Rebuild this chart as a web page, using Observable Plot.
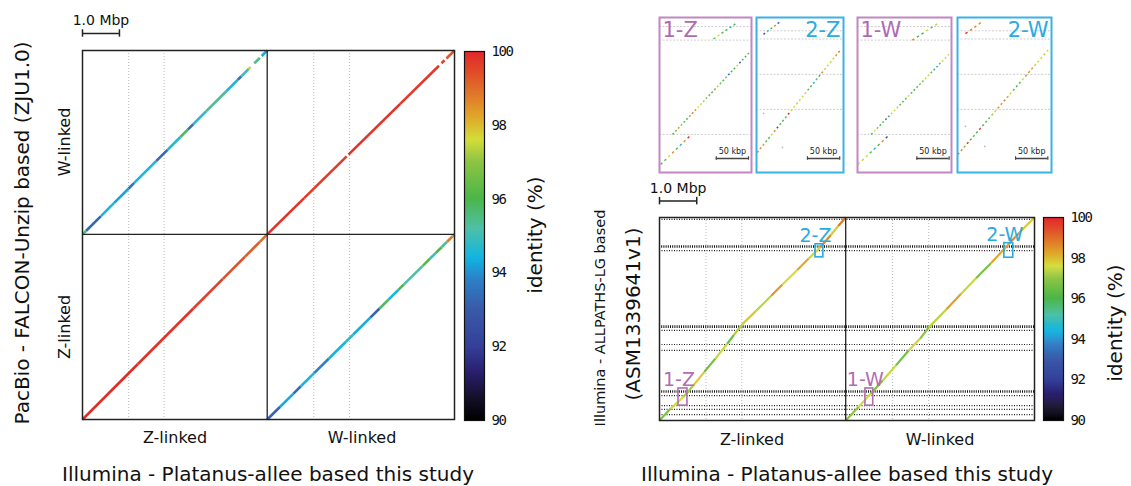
<!DOCTYPE html>
<html><head><meta charset="utf-8">
<script src="https://cdn.jsdelivr.net/npm/d3@7"></script>
<script src="https://cdn.jsdelivr.net/npm/@observablehq/plot@0.6"></script>
<style>
html,body{margin:0;padding:0;background:#fff;}
#root{position:relative;width:1131px;height:486px;overflow:hidden;font-family:"DejaVu Sans",sans-serif;color:#111;}
.abs{position:absolute;}
.lbl{position:absolute;white-space:nowrap;transform:translate(-50%,-50%);line-height:1;}
.rot{transform:translate(-50%,-50%) rotate(-90deg);}
</style></head><body><div id="root"></div>
<script>
// ---------------- data ----------------
const identityStops  = [90, 90.6, 91.3, 92.0, 93.0, 93.8, 94.4, 95.2, 96.0, 97.0, 97.6, 98.2, 98.8, 99.4, 100];
const identityColors = ["#000000","#141028","#2a1f6e","#34409a","#3a5aa8","#2d7fc6","#11b5e2","#4fc0a6","#4bb649","#8dc443","#d3dd3a","#e0a82a","#e07a2a","#e04e2a","#e3262a"];
const colorTicks = [90, 92, 94, 96, 98, 100];

// sequence lengths (Mbp)
const illuminaZLen = 5.0, illuminaWLen = 5.07;
const pacbioZLen = 5.0, pacbioWLen = 4.97;
const asmZLen = 5.45;
// scaffold boundaries (Mbp)
const illuminaZBounds = [1.25, 2.21];
const illuminaWBounds = [1.26, 2.23];
const asmBoundsHeavy = [4.67, 2.52, 0.78];
const asmBoundsLight = [5.40, 4.56, 2.42, 2.04, 1.88, 0.67, 0.40, 0.30, 0.16];

// PacBio dot plot alignments: breakpoints along query (Mbp) and identity per block (null = gap)
const zwBreaks = [0, 0.1, 0.5, 0.85, 1.25, 1.4, 2.0, 2.3, 2.65, 2.85, 3.0, 3.35, 3.9, 4.2, 4.3, 4.5, 4.55, 4.65, 4.8, 4.85, 5.0];
const zwIdent  = [95.5, 93.3, 94.5, 94.2, 93.5, 94.5, 93.3, 94.6, 95.8, 93.4, 94.7, 95.4, 94.5, 93.5, 95.0, 97.8, null, 95.5, null, 94.3];
const wwBreaks = [0, 1.0, 2.15, 2.2, 3.6, 4.65, 4.72, 4.8, 4.85, 5.07];
const wwIdent  = [99.8, 99.7, null, 99.8, 99.7, null, 99.6, null, 99.3];
const zzBreaks = [0, 1.5, 3.0, 3.8, 4.4, 4.8, 5.0];
const zzIdent  = [99.9, 99.8, 99.6, 99.4, 99.2, 99.0];
const wzBreaks = [0, 0.35, 0.71, 0.91, 1.27, 1.67, 2.13, 2.33, 2.79, 3.04, 3.29, 3.55, 3.7, 4.21, 4.41, 4.56, 4.72, 4.87, 5.02, 5.07];
const wzIdent  = [93.2, 94.3, 93.4, 94.5, 93.8, 94.4, 94.8, 94.3, 93.2, 95.8, 94.4, 96.0, 95.2, 96.2, 95.0, 96.0, 95.3, 98.8, 95.0];

// ALLPATHS dot plot alignments: path points (query Mbp, ASM Mbp) and identity per step
const azX  = [0.00, 0.30, 0.64, 0.90, 1.20, 1.50, 1.82, 2.00, 2.22, 2.60, 3.00, 3.30, 3.70, 4.00, 4.32, 4.60, 4.80, 5.00];
const azY  = [0.00, 0.32, 0.63, 0.93, 1.30, 1.66, 2.06, 2.30, 2.58, 2.95, 3.35, 3.65, 4.04, 4.34, 4.65, 4.98, 5.22, 5.45];
const azId = [96.8, 97.6, 97.2, 97.8, 96.6, 97.5, 96.5, 97.3, 97.8, 97.4, 98.4, 97.6, 98.2, 97.5, 98.6, 97.8, 98.8];
const awX  = [0.00, 0.35, 0.67, 1.00, 1.35, 1.69, 2.00, 2.23, 2.70, 3.10, 3.50, 3.90, 4.38, 4.70, 5.07];
const awY  = [0.00, 0.37, 0.72, 1.08, 1.48, 1.88, 2.20, 2.50, 2.98, 3.40, 3.82, 4.22, 4.74, 5.08, 5.45];
const awId = [97.0, 97.6, 96.8, 97.5, 96.6, 97.7, 96.9, 97.4, 98.3, 97.5, 96.7, 98.2, 98.6, 97.8];

// zoom regions (Mbp)
const regionNames = ["1-Z", "2-Z", "1-W", "2-W"];
const regionX1 = [0.51, 4.19, 5.53, 9.26];
const regionX2 = [0.75, 4.40, 5.74, 9.50];
const regionY1 = [0.40, 4.38, 0.40, 4.37];
const regionY2 = [0.86, 4.73, 0.86, 4.76];
const regionGroup = ["1", "2", "1", "2"];

// insets (kbp): segments [x1,y1,x2,y2] with identity of each dot along it
const insetSegs = {
  "1-Z": [
    {x1: 1.6, y1: 12.4, x2: 49.6, y2: 58.9, ids: [96.0, 96.5, 97.6, 98.6, 96.2, 94.6, 98.5, 99.9]},
    {x1: 20.2, y1: 58.9, x2: 141, y2: 187.6, ids: [96.0, 96.2, 98.6, 97.0, 96.0, 96.3, 98.5, 98.7, 98.4, 97.6, 97.4, 97.2, 96.8, 96.5, 96.0, 96.4, 97.7, 96.2, 96.0, 96.5, 93.2, 96.0, 95.8, 97.6, 93.0, 96.2, 96.0, 96.5]},
    {x1: 83.7, y1: 206.7, x2: 121, y2: 232.6, ids: [96.0, 97.6, 96.3, 96.0, 94.5, 96.2]}
  ],
  "2-Z": [
    {x1: 1.1, y1: 31, x2: 131.3, y2: 191.2, ids: [98.8, 98.6, 98.5, 96.2, 96.0, 97.5, 98.6, 93.0, 96.2, 96.0, 96.0, 99.8, 97.6, 97.6, 97.8, 97.5, 97.6, 97.7, 96.2, 96.0, 94.5, 95.5, 96.0, 98.6, 97.8, 97.6, 97.5, 97.7, 98.5, 98.8]},
    {x1: 10.9, y1: 214, x2: 38.3, y2: 234.6, ids: [93.0, 95.0, 96.0, 98.6, 93.5]}
  ],
  "1-W": [
    {x1: 0.5, y1: 12.4, x2: 50, y2: 58.9, ids: [97.6, 97.8, 97.6, 96.2, 94.5, 96.0, 98.5, 93.0]},
    {x1: 21.2, y1: 58.9, x2: 144.2, y2: 185.6, ids: [94.5, 97.6, 97.0, 96.0, 96.2, 93.0, 96.0, 97.5, 97.6, 97.4, 96.2, 96.0, 96.4, 97.6, 96.2, 96.0, 96.3, 96.5, 96.8, 97.6, 97.8, 96.2, 96.0, 94.6, 96.4, 97.6, 97.8, 97.6]},
    {x1: 84.8, y1: 205, x2: 127.6, y2: 232.6, ids: [98.6, 96.3, 96.0, 97.6, 95.2, 97.7]}
  ],
  "2-W": [
    {x1: 0.5, y1: 27.9, x2: 143.1, y2: 192.7, ids: [98.8, 98.6, 98.5, 99.8, 96.0, 96.2, 96.0, 99.6, 96.0, 96.2, 96.5, 97.2, 97.5, 98.6, 98.5, 98.7, 98.4, 97.6, 96.2, 96.0, 96.3, 97.6, 98.6, 98.7, 98.5, 97.8, 97.6, 97.7, 97.8, 97.6]},
    {x1: 12.4, y1: 215, x2: 39.8, y2: 234.6, ids: [99.8, 98.7, 98.6, 98.5]}
  ]
};
const insetNoise = {"1-Z": [], "2-Z": [{x: 10.9, y: 91.5}, {x: 40.3, y: 38.8}], "1-W": [], "2-W": [{x: 12.4, y: 71.3}, {x: 42.3, y: 40.3}]};
const insetGuides = {"1-Z": [226, 205, 59], "2-Z": [219.4, 206.7, 152, 97.7], "1-W": [226, 205, 59], "2-W": [219.4, 206.7, 152, 97.7]};
const insetWidthKbp = {"1-Z": 142.6, "2-Z": 134.9, "1-W": 145.7, "2-W": 145.7};
const insetHeightKbp = 240;
const insetBarStart = {"1-Z": 88, "2-Z": 79, "1-W": 92, "2-W": 90};
const insetBarLen = 50;

// ---------------- helpers ----------------
const root = document.getElementById("root");
const colorOpt = {type: "linear", domain: identityStops, range: identityColors, clamp: true};
const baseStyle = {background: "none", overflow: "visible", maxWidth: "none", fontFamily: "DejaVu Sans"};
function place(el, left, top) { const d = document.createElement("div"); d.className = "abs"; d.style.left = left + "px"; d.style.top = top + "px"; d.appendChild(el); root.appendChild(d); return d; }
function label(text, cx, cy, size, rotate, extra) {
  const d = document.createElement("div"); d.className = "lbl" + (rotate ? " rot" : "");
  d.style.left = cx + "px"; d.style.top = cy + "px"; d.style.fontSize = size + "px"; d.textContent = text;
  if (extra) Object.assign(d.style, extra);
  root.appendChild(d);
}
function diag(breaks, ident, xOff, yOff, yScale) {
  const out = [];
  ident.forEach((v, i) => { if (v != null) out.push({x1: xOff + breaks[i], x2: xOff + breaks[i + 1], y1: yOff + breaks[i] * yScale, y2: yOff + breaks[i + 1] * yScale, id: v}); });
  return out;
}
function path(xs, ys, ids, xOff) { return ids.map((v, i) => ({x1: xOff + xs[i], x2: xOff + xs[i + 1], y1: ys[i], y2: ys[i + 1], id: v})); }
function dashes(seg) {
  const n = seg.ids.length;
  return seg.ids.map((v, i) => ({
    x1: seg.x1 + (seg.x2 - seg.x1) * i / n, x2: seg.x1 + (seg.x2 - seg.x1) * (i + 0.45) / n,
    y1: seg.y1 + (seg.y2 - seg.y1) * i / n, y2: seg.y1 + (seg.y2 - seg.y1) * (i + 0.45) / n, id: v}));
}
function colorbar(top, bottom, height) {
  const step = 0.05;
  const bins = d3.range(90, 100, step);
  const svg = Plot.plot({
    width: 100, height: height, marginLeft: 9, marginRight: 71, marginTop: top, marginBottom: height - bottom,
    style: {...baseStyle, fontFamily: "DejaVu Sans Mono", fontSize: "14px"},
    x: {domain: [0, 1], axis: null}, y: {domain: [90, 100]},
    color: colorOpt,
    marks: [
      Plot.rect(bins, {x1: 0, x2: 1, y1: d => d, y2: d => Math.min(100, d + step * 1.6), fill: d => d + step / 2}),
      Plot.frame({stroke: "#111", strokeWidth: 1.2}),
      Plot.axisY({anchor: "right", ticks: colorTicks, tickSize: 0, tickPadding: 7, label: null, tickFormat: d => String(d)})
    ]
  });
  d3.select(svg).selectAll("text").style("letter-spacing", "-1.4px");
  return svg;
}

// ---------------- left dot plot ----------------
const leftSegs = [
  ...diag(zwBreaks, zwIdent, 0, pacbioZLen, pacbioWLen / illuminaZLen),
  ...diag(wwBreaks, wwIdent, illuminaZLen, pacbioZLen, pacbioWLen / illuminaWLen),
  ...diag(zzBreaks, zzIdent, 0, 0, pacbioZLen / illuminaZLen),
  ...diag(wzBreaks, wzIdent, illuminaZLen, 0, pacbioZLen / illuminaWLen)
];
const xTot = illuminaZLen + illuminaWLen;
const leftGuides = [...illuminaZBounds, ...illuminaWBounds.map(d => d + illuminaZLen)];
const leftPlot = Plot.plot({
  width: 560, height: 486, marginLeft: 82, marginRight: 106, marginTop: 50, marginBottom: 67,
  style: baseStyle,
  x: {domain: [0, xTot], axis: null}, y: {domain: [0, pacbioZLen + pacbioWLen], axis: null},
  color: colorOpt,
  marks: [
    Plot.ruleX(leftGuides, {stroke: "#b8b8b8", strokeDasharray: "1,2", strokeWidth: 1}),
    Plot.link(leftSegs, {x1: "x1", y1: "y1", x2: "x2", y2: "y2", stroke: "id", strokeWidth: 2.6}),
    Plot.ruleX([illuminaZLen], {stroke: "#222", strokeWidth: 1.3}),
    Plot.ruleY([pacbioZLen], {stroke: "#222", strokeWidth: 1.3}),
    Plot.frame({stroke: "#222", strokeWidth: 1.5}),
    Plot.ruleY([10.43], {x1: 0, x2: 1.0, stroke: "#222", strokeWidth: 1.5}),
    Plot.ruleX([0, 1.0], {y1: 10.33, y2: 10.53, stroke: "#222", strokeWidth: 1.5}),
    Plot.text(["1.0 Mbp"], {x: 0.5, y: 10.43, dy: -13, fontSize: 14, fill: "#111"})
  ]
});
place(leftPlot, 0, 0);
place(colorbar(51, 420, 486), 455, 0);

label("PacBio - FALCON-Unzip based (ZJU1.0)", 22, 233, 20, true);
label("W-linked", 65, 142, 16, true);
label("Z-linked", 65, 327, 16, true);
label("Z-linked", 175, 438, 16, false);
label("W-linked", 362, 438, 16, false);
label("Illumina - Platanus-allee based this study", 268, 474, 20, false);
label("identity (%)", 535, 235, 20, true);

// ---------------- right dot plot ----------------
const rightSegs = [...path(azX, azY, azId, 0), ...path(awX, awY, awId, illuminaZLen)];
const regions = regionNames.map((n, i) => ({name: n, x1: regionX1[i], x2: regionX2[i], y1: regionY1[i], y2: regionY2[i], group: regionGroup[i]}));
const groupColor = {"1": "#b36cb3", "2": "#29abe2"};
const rightPlot = Plot.plot({
  width: 571, height: 486, marginLeft: 99, marginRight: 97, marginTop: 217, marginBottom: 66,
  style: baseStyle,
  x: {domain: [0, xTot], axis: null}, y: {domain: [0, asmZLen], axis: null},
  color: colorOpt,
  marks: [
    Plot.ruleX(leftGuides, {stroke: "#b8b8b8", strokeDasharray: "1,2", strokeWidth: 1}),
    Plot.ruleY(asmBoundsHeavy, {stroke: "#111", strokeDasharray: "1,1.2", strokeWidth: 2.6}),
    Plot.ruleY(asmBoundsLight, {stroke: "#222", strokeDasharray: "1,1.5", strokeWidth: 1.2}),
    Plot.link(rightSegs, {x1: "x1", y1: "y1", x2: "x2", y2: "y2", stroke: "id", strokeWidth: 2.2}),
    Plot.ruleX([illuminaZLen], {stroke: "#222", strokeWidth: 1.3}),
    Plot.frame({stroke: "#222", strokeWidth: 1.5}),
    Plot.rect(regions, {x1: "x1", x2: "x2", y1: "y1", y2: "y2", fill: "none", stroke: d => groupColor[d.group], strokeWidth: 1.6}),
    Plot.text(regions, {x: d => (d.x1 + d.x2) / 2, y: "y2", text: "name", dx: -4, dy: -2, lineAnchor: "bottom", fontSize: 19, fill: d => groupColor[d.group]}),
    Plot.ruleY([5.89], {x1: 0, x2: 1.0, stroke: "#222", strokeWidth: 1.5}),
    Plot.ruleX([0, 1.0], {y1: 5.79, y2: 5.99, stroke: "#222", strokeWidth: 1.5}),
    Plot.text(["1.0 Mbp"], {x: 0.5, y: 5.89, dy: -13, fontSize: 14, fill: "#111"})
  ]
});
place(rightPlot, 560, 0);
place(colorbar(217, 420, 486), 1034, 0);

label("Illumina - ALLPATHS-LG based", 600, 318, 14.5, true);
label("(ASM1339641v1)", 633, 314, 20, true);
label("Z-linked", 752, 440, 16, false);
label("W-linked", 940, 440, 16, false);
label("Illumina - Platanus-allee based this study", 847, 474, 20, false);
label("identity (%)", 1115, 323, 20, true);

// ---------------- insets ----------------
const insetLeft = {"1-Z": 659, "2-Z": 756, "1-W": 857, "2-W": 957};
const insetPx = {"1-Z": 92, "2-Z": 87, "1-W": 94, "2-W": 94};
for (const name of regionNames) {
  const grp = name[0];
  const col = grp === "1" ? "#c087c2" : "#3ab2e6";
  const txtCol = grp === "1" ? "#b06ab2" : "#29abe2";
  const dots = insetSegs[name].flatMap(dashes);
  const svg = Plot.plot({
    width: insetPx[name], height: 155, margin: 0,
    style: baseStyle,
    x: {domain: [0, insetWidthKbp[name]], axis: null}, y: {domain: [0, insetHeightKbp], axis: null},
    color: colorOpt,
    marks: [
      Plot.ruleY(insetGuides[name], {stroke: "#c8c8c8", strokeDasharray: "2,1.5", strokeWidth: 0.9}),
      Plot.link(dots, {x1: "x1", y1: "y1", x2: "x2", y2: "y2", stroke: "id", strokeWidth: 1.5}),
      Plot.dot(insetNoise[name], {x: "x", y: "y", r: 0.9, fill: "#bbb", stroke: null}),
      Plot.ruleY([21.7], {x1: insetBarStart[name], x2: insetBarStart[name] + insetBarLen, stroke: "#444", strokeWidth: 1.5}),
      Plot.ruleX([insetBarStart[name], insetBarStart[name] + insetBarLen], {y1: 19, y2: 24.4, stroke: "#444", strokeWidth: 1.2}),
      Plot.text(["50 kbp"], {x: insetBarStart[name] + insetBarLen / 2, y: 21.7, dy: -7, fontSize: 8, fill: "#222"}),
      Plot.text([name], {frameAnchor: grp === "1" ? "top-left" : "top-right", dx: grp === "1" ? 3 : -3, dy: 5, lineAnchor: "top", fontSize: 21, fill: txtCol}),
      Plot.frame({stroke: col, strokeWidth: 2})
    ]
  });
  place(svg, insetLeft[name], 17);
}
</script></body></html>
